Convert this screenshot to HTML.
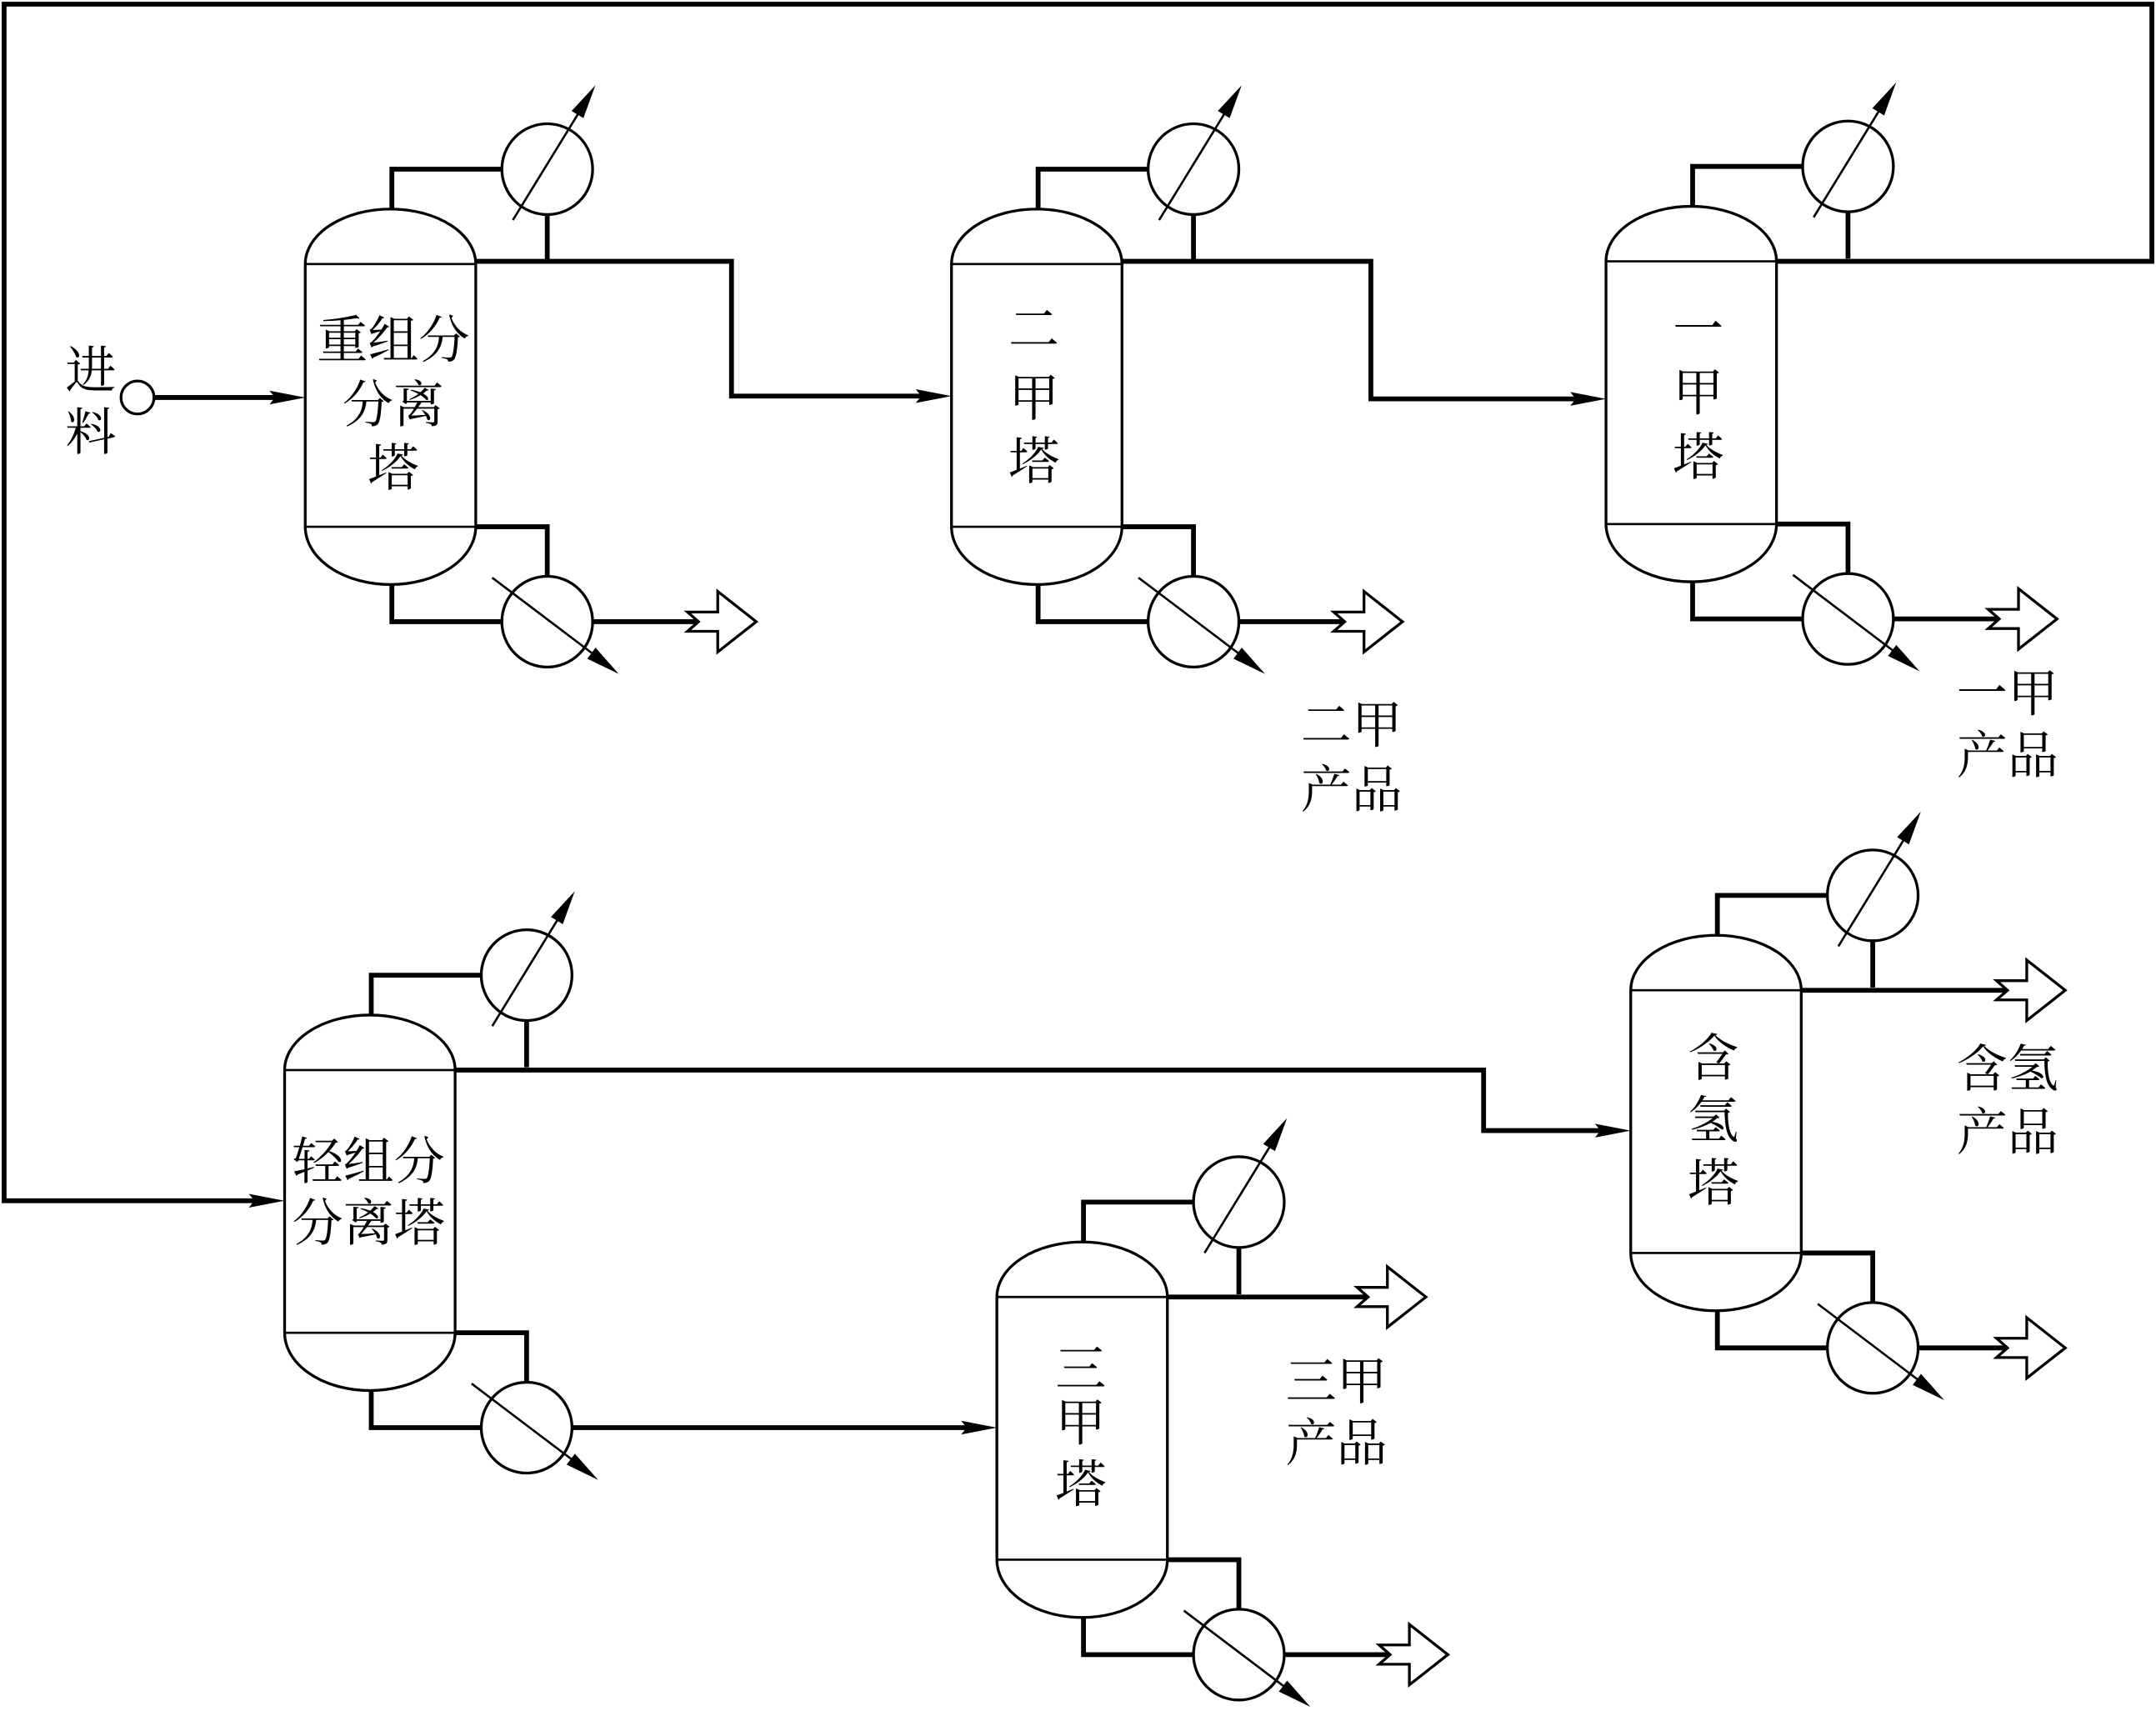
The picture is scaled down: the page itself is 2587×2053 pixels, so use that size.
<!DOCTYPE html>
<html><head><meta charset="utf-8"><style>
html,body{margin:0;padding:0;background:#fff;}
svg{display:block;}
text{font-family:"Liberation Serif","Noto Serif CJK SC",serif;font-size:37px;fill:#000;text-anchor:middle;}
</style></head><body>
<svg width="2587" height="2053" viewBox="0 0 1568 1244" preserveAspectRatio="none" xmlns="http://www.w3.org/2000/svg">
<defs>
<g id="col">
  <path d="M222,192 A62,40 0 0 1 346,192 L346,383 A62,42 0 0 1 222,383 Z" fill="#fff" stroke="#000" stroke-width="2"/>
  <line x1="222" y1="192" x2="346" y2="192" stroke="#000" stroke-width="1.6"/>
  <line x1="222" y1="383" x2="346" y2="383" stroke="#000" stroke-width="1.6"/>
  <path d="M285,152 V123 H365 M398,156 V190 M346,383 H398 V419 M285,425 V452 H365" fill="none" stroke="#000" stroke-width="3.5"/>
  <circle cx="398" cy="123" r="33" fill="#fff" stroke="#000" stroke-width="2"/>
  <circle cx="398" cy="452" r="33" fill="#fff" stroke="#000" stroke-width="2"/>
  <line x1="373" y1="160" x2="424" y2="77" stroke="#000" stroke-width="1.6"/>
  <polygon points="433,62 424.3,85.9 415.7,80.7" fill="#000"/>
  <line x1="358" y1="420" x2="436" y2="479" stroke="#000" stroke-width="1.6"/>
  <polygon points="450,490 427.1,478.9 433.1,470.9" fill="#000"/>
</g>
</defs>
<g fill="none" stroke="#000" stroke-width="3.5">
  <path d="M112,289 H210"/>
  <path d="M346,190 H532 V288 H680"/>
  <path d="M816,190 H997 V290 H1156"/>
  <path d="M1292,190 H1565 V3 H3 V873 H195"/>
  <path d="M331,778 H1079 V822 H1174"/>
  <path d="M416,1038 H713"/>
  <path d="M849,943 H995"/>
  <path d="M934,1203 H1011"/>
  <path d="M1310,720 H1460"/>
  <path d="M1393,980 H1460"/>
  <path d="M431,452 H508"/>
  <path d="M901,452 H978"/>
  <path d="M1377,450 H1454"/>
</g>
<g fill="#000">
  <polygon points="222,289 196,284 200,289 196,294"/>
  <polygon points="692,288 666,283 670,288 666,293"/>
  <polygon points="1168,290 1142,285 1146,290 1142,295"/>
  <polygon points="207,873 181,868 185,873 181,878"/>
  <polygon points="1186,822 1160,817 1164,822 1160,827"/>
  <polygon points="725,1038 699,1033 703,1038 699,1043"/>
</g>
<circle cx="100" cy="289" r="12" fill="#fff" stroke="#000" stroke-width="2"/>
<use href="#col"/>
<use href="#col" transform="translate(470,0)"/>
<use href="#col" transform="translate(946,-2)"/>
<use href="#col" transform="translate(-15,586)"/>
<use href="#col" transform="translate(503,751)"/>
<use href="#col" transform="translate(964,528)"/>
<g fill="#fff" stroke="#000" stroke-width="2">
  <polygon points="500,445 522,445 522,430 550,452 522,474 522,459 500,459 508,452"/>
  <polygon points="970,445 992,445 992,430 1020,452 992,474 992,459 970,459 978,452"/>
  <polygon points="1446,443 1468,443 1468,428 1496,450 1468,472 1468,457 1446,457 1454,450"/>
  <polygon points="987,936 1009,936 1009,921 1037,943 1009,965 1009,950 987,950 995,943"/>
  <polygon points="1003,1196 1025,1196 1025,1181 1053,1203 1025,1225 1025,1210 1003,1210 1011,1203"/>
  <polygon points="1452,713 1474,713 1474,698 1502,720 1474,742 1474,727 1452,727 1460,720"/>
  <polygon points="1452,973 1474,973 1474,958 1502,980 1474,1002 1474,987 1452,987 1460,980"/>
</g>
<text x="66" y="282">进</text>
<text x="66" y="327">料</text>
<text x="286" y="260">重组分</text>
<text x="286" y="307">分离</text>
<text x="286" y="353">塔</text>
<text x="752" y="252">二</text>
<text x="752" y="302">甲</text>
<text x="752" y="348">塔</text>
<text x="1235" y="252">一</text>
<text x="1235" y="298">甲</text>
<text x="1235" y="345">塔</text>
<text x="268" y="857">轻组分</text>
<text x="268" y="902">分离塔</text>
<text x="786" y="1008">三</text>
<text x="786" y="1047">甲</text>
<text x="786" y="1092">塔</text>
<text x="1246" y="782">含</text>
<text x="1246" y="827">氢</text>
<text x="1246" y="873">塔</text>
<text x="983" y="540">二甲</text>
<text x="983" y="587">产品</text>
<text x="1460" y="517">一甲</text>
<text x="1460" y="562">产品</text>
<text x="1460" y="790">含氢</text>
<text x="1460" y="836">产品</text>
<text x="972" y="1017">三甲</text>
<text x="972" y="1062">产品</text>
</svg>
</body></html>
